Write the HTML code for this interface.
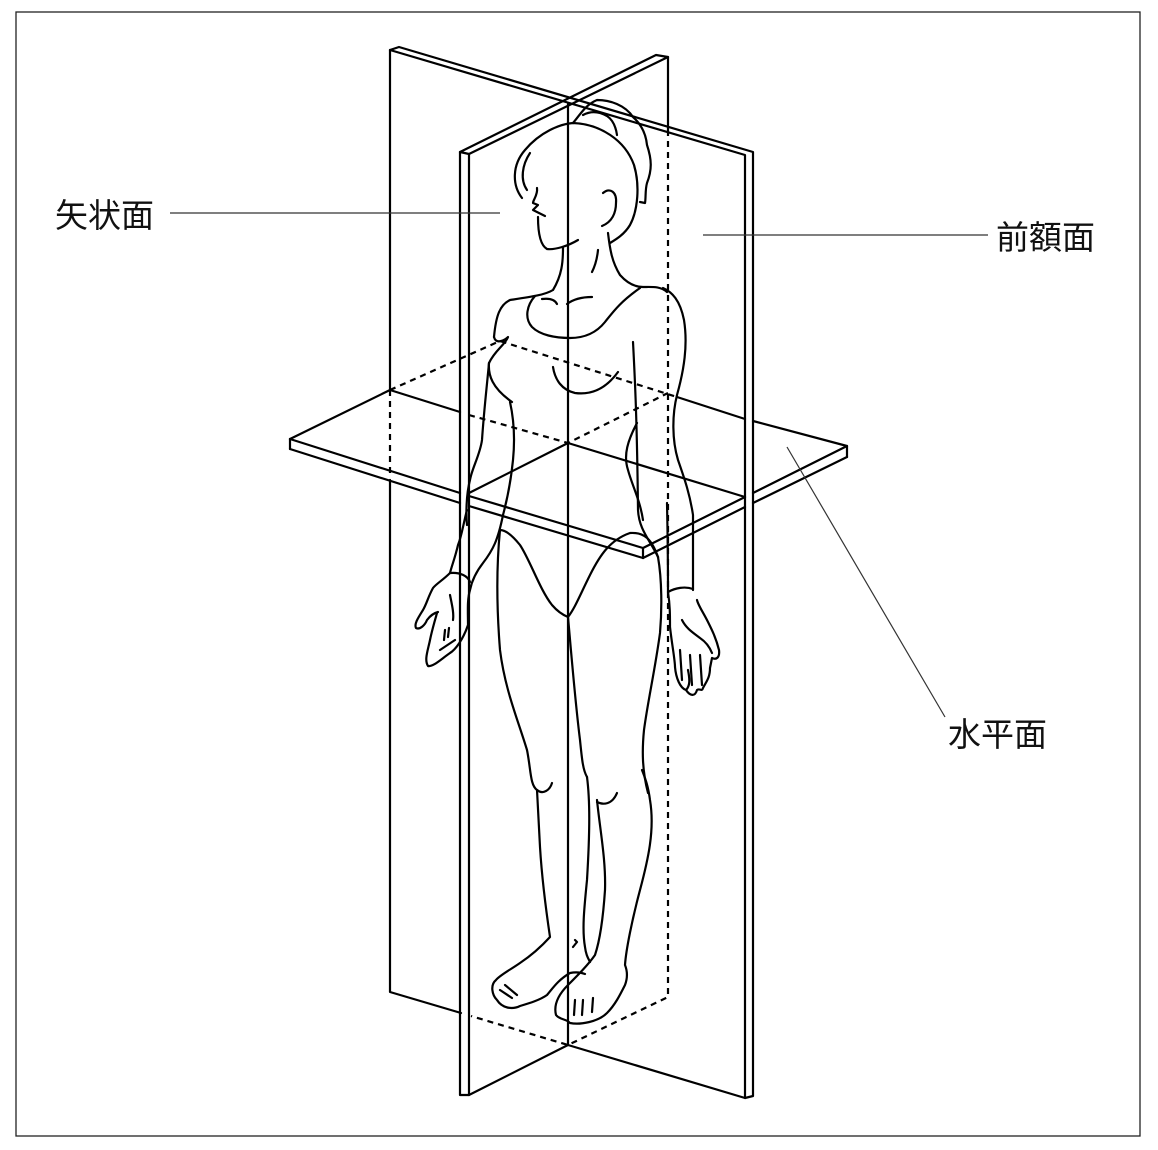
<!DOCTYPE html>
<html><head><meta charset="utf-8"><style>
html,body{margin:0;padding:0;background:#fff;}
svg{display:block;}
text{font-family:"Liberation Sans","Noto Sans CJK JP",sans-serif;font-size:33px;fill:#111;}
</style></head><body>
<svg width="1158" height="1150" viewBox="0 0 1158 1150" xmlns="http://www.w3.org/2000/svg">
<rect x="16" y="12" width="1124" height="1124" fill="#fff" stroke="#222" stroke-width="1.3"/>
<g stroke="#000" stroke-width="2.2" fill="none" stroke-linejoin="round" stroke-linecap="round">
<!-- Sagittal plane -->
<path d="M390,50 L399,47 L753,152 L753,1096 L745,1098 L745,155 L390,50"/>
<path d="M390,50 V390 M390,480 V992 L461,1013"/>
<path d="M568,1045 L745,1098"/>
<!-- Frontal plane -->
<path d="M460,152 L469,154 L668,57 L656,55 L460,152 Z"/>
<path d="M460,152 V1095 H469 V154"/>
<path d="M469,1095 L568,1045"/>
<path d="M668,57 V130"/>
<path d="M568,104 V1045"/>
<!-- Horizontal plane -->
<path d="M290,439 V449"/>
<path d="M290,439 L390,390"/>
<path d="M677,397 L745,419 M753,421 L847,446 V457"/>
<path d="M643,548 L745,497 M753,493 L847,446"/>
<path d="M643,558 L745,507 M753,503 L847,457"/>
<path d="M290,439 L460,493 M469,496 L643,548 V558"/>
<path d="M290,449 L460,503 M469,506 L643,558"/>
<path d="M390,390 L460,412 M568,443 L745,497 M469,493 L568,443"/>
</g>
<g stroke="#000" stroke-width="2.2" fill="none" stroke-dasharray="6,5">
<path d="M390,390 V478"/>
<path d="M390,390 L500,341 L677,397"/>
<path d="M469,415 L568,443 L668,393"/>
<path d="M668,130 V997 L568,1045 L471,1016"/>
</g>
<!-- Figure -->
<g stroke="#000" stroke-width="2.2" fill="none" stroke-linecap="round" stroke-linejoin="round">
<path d="M522,198 C512,185 512,165 525,150 C540,132 560,124 573,123 C600,124 625,140 634,165 C640,185 638,210 630,225 C624,235 615,240 610,243"/>
<path d="M530,153 C522,165 520,180 527,190"/>
<path d="M537,188 C538,195 533,200 533,203 L538,205 L533,210 L545,216 M538,217 C538,232 540,245 547,249 C555,250 568,246 578,240"/>
<path d="M603,193 C610,187 617,192 616,203 C616,213 612,222 602,226"/>
<path d="M573,123 C580,115 585,105 597,100 C610,100 625,105 633,117 C642,125 646,135 647,145 C652,160 652,170 647,183 C645,190 646,198 645,203 L640,202"/>
<path d="M583,115 C592,110 600,112 607,116 C613,120 616,128 617,135"/>
<path d="M563,248 C563,262 562,275 553,290 C545,295 530,297 510,300 C500,305 496,315 494,337"/>
<path d="M608,233 C610,250 612,262 620,275 C628,284 636,287 643,287 C652,287 660,286 667,292"/>
<path d="M598,250 C597,260 595,266 592,272"/>
<path d="M535,296 C527,305 524,318 532,327 C540,335 555,338 570,338 C585,338 597,332 605,322 C613,312 620,302 640,288"/>
<path d="M542,299 C550,298 555,300 557,304 M567,304 C575,298 585,297 592,297"/>
<path d="M494,337 C496,345 505,340 508,337 C505,345 495,350 489,363 C488,375 492,388 512,402"/>
<path d="M489,363 C487,385 484,410 482,440 C480,455 472,468 470,480 C466,495 466,515 467,525"/>
<path d="M510,402 C514,420 515,440 513,460 C511,480 507,500 503,515"/>
<path d="M553,367 C555,380 562,390 575,393 C590,395 605,390 618,372"/>
<path d="M663,288 C672,292 680,300 684,320 C688,345 684,370 677,395 C672,415 672,440 678,460 C685,480 690,495 693,515 L693,590"/>
<path d="M633,342 C635,380 637,420 638,510 C639,530 650,540 658,557"/>
<path d="M637,423 C628,440 623,455 628,470 C632,485 640,500 643,520"/>
<path d="M467,510 C463,525 462,535 458,545 C455,558 452,565 450,573"/>
<path d="M503,515 C498,540 493,550 483,563 C476,572 472,580 470,590 C467,600 468,612 468,625 C463,640 455,650 450,653 C440,660 433,667 428,666 C424,660 428,650 430,640 C432,630 435,620 437,613"/>
<path d="M450,573 C460,572 468,576 470,582"/>
<path d="M450,573 C443,580 436,584 433,588 C428,597 427,603 423,610 C418,618 414,624 416,628 C420,630 425,625 427,620 C430,616 434,613 438,612"/>
<path d="M450,595 C452,605 454,613 453,620 M440,650 L455,640 M444,640 L445,630 M448,637 L449,628"/>
<path d="M667,503 C668,550 668,575 668,592 C670,605 670,615 670,627 C672,645 675,660 675,667 C676,678 680,688 686,690 C690,686 690,680 688,670 M686,690 C690,696 695,697 697,690 C700,688 702,692 703,688 C706,682 710,678 710,668 L712,658 C716,660 720,658 719,650 C716,638 712,630 708,622 C703,612 698,605 697,600"/>
<path d="M668,592 C675,588 685,586 693,589"/>
<path d="M682,620 C686,628 692,632 700,638 C706,642 710,648 712,653"/>
<path d="M680,650 L682,680 M690,655 L692,685 M700,655 L702,685"/>
<path d="M500,530 C505,530 512,535 520,545 C530,560 540,590 552,605 C558,612 563,615 568,617 C575,608 580,595 590,575 C600,555 610,540 630,533 C645,532 652,540 658,557"/>
<path d="M500,530 C497,560 496,600 500,650 C505,690 518,720 527,750 C531,770 530,785 537,790 C543,795 550,790 552,783"/>
<path d="M537,790 L540,847 C542,880 546,910 550,937 C540,948 532,955 520,963 C510,970 500,975 496,980 C490,985 492,995 497,1000 C502,1008 512,1010 520,1006 C530,1003 540,1000 547,995 C553,988 558,980 570,973 C575,972 580,972 585,974"/>
<path d="M568,617 C571,650 575,700 580,740 C582,760 583,770 587,777"/>
<path d="M587,777 C590,800 590,830 587,880 C584,910 582,930 585,947 C586,955 588,958 590,962"/>
<path d="M597,802 C603,805 612,805 617,793"/>
<path d="M597,800 C600,830 606,860 605,890 C603,920 600,940 595,955 C588,965 578,975 568,985 C560,993 553,1003 556,1015 C560,1020 567,1019 570,1023 C580,1025 598,1022 607,1013 C615,1005 620,995 625,985 C628,977 627,970 625,965 C626,950 632,920 640,890 C648,860 655,830 650,800 C648,785 645,778 642,770"/>
<path d="M658,557 C662,580 662,610 660,633 C655,670 648,700 644,730 C642,750 642,770 648,793"/>
<path d="M573,947 L577,942 L575,940 M500,990 L512,998 M505,985 L517,995 M575,1000 L574,1015 M583,1000 L582,1015 M593,998 L592,1012"/>
</g>
<g stroke="#333" stroke-width="1.2">
<line x1="170" y1="213" x2="500" y2="213"/>
<line x1="703" y1="235" x2="988" y2="235"/>
<line x1="787" y1="447" x2="945" y2="717"/>
</g>
<text x="55" y="227">矢状面</text>
<text x="996" y="249">前額面</text>
<text x="948" y="746">水平面</text>
</svg>
</body></html>
